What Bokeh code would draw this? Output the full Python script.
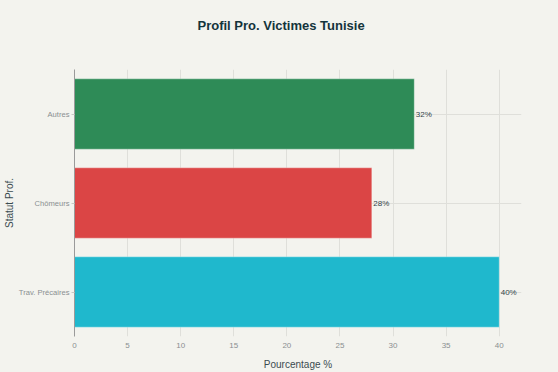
from bokeh.plotting import figure
from bokeh.models import FactorRange, Range1d, LabelSet, ColumnDataSource, SingleIntervalTicker, Title
from bokeh.core.properties import value
from bokeh.embed import file_html
from bokeh.resources import INLINE

categories = ["Trav. Précaires", "Chômeurs", "Autres"]
values = [40, 28, 32]
colors = ["#1FB8CD", "#DB4545", "#2E8B57"]
labels = ["40%", "28%", "32%"]

BG = "#F3F3EE"
FONT = "Liberation Sans"

src = ColumnDataSource(dict(cat=categories, val=values, color=colors, lab=labels))

p = figure(width=558, height=372, output_backend="svg", toolbar_location=None,
           y_range=FactorRange(factors=categories, range_padding=0),
           x_range=Range1d(0, 42.1),
           background_fill_color=BG, border_fill_color=BG,
           min_border_left=0, min_border_right=37, min_border_top=69, min_border_bottom=0)

p.hbar(y="cat", right="val", height=0.79, left=0, source=src,
       fill_color="color", line_color="white", line_alpha=0.5, line_width=0.6)

p.add_layout(LabelSet(x="val", y="cat", text="lab", source=src, x_offset=1.5,
                      text_baseline="middle", text_font_size="8px",
                      text_color="#34454b", text_font=value(FONT)))

# blank spacer panel between the title and the plot frame
p.add_layout(Title(text=" ", text_font_size="10px", standoff=22), "above")

p.title.text = "Profil Pro. Victimes Tunisie"
p.title.align = "left"
p.title.offset = 123
p.title.text_font = FONT
p.title.text_font_size = "13px"
p.title.text_font_style = "bold"
p.title.text_color = "#13343B"
p.title.standoff = 4

p.xaxis.ticker = SingleIntervalTicker(interval=5)
p.xaxis.axis_label = "Pourcentage %"
p.yaxis.axis_label = "Statut Prof."
for ax in (p.xaxis[0], p.yaxis[0]):
    ax.axis_label_text_font = FONT
    ax.axis_label_text_font_size = "10px"
    ax.axis_label_text_font_style = "normal"
    ax.axis_label_text_color = "#3b4b50"
    ax.major_label_text_font = FONT
    ax.major_label_text_font_size = "7.6px"
    ax.major_label_text_color = "#8a8f91"
    ax.minor_tick_line_color = None

p.xaxis.major_label_text_font_size = "8px"
p.xaxis.axis_line_color = None
p.xaxis.major_tick_line_color = None
p.xaxis.major_tick_out = 0
p.xaxis.major_tick_in = 0
p.xaxis.major_label_standoff = 2
p.xaxis.axis_label_standoff = 8

p.yaxis.axis_line_color = "#9a9a9a"
p.yaxis.major_tick_line_color = "#c8c8c4"
p.yaxis.major_tick_out = 3
p.yaxis.major_tick_in = 0
p.yaxis.major_label_standoff = 2
p.yaxis.axis_label_standoff = 1

p.xgrid.grid_line_color = "#dfdfda"
p.ygrid.grid_line_color = "#dfdfda"
p.outline_line_color = None

html = file_html(p, INLINE)
html = html.replace("</head>", "<style>html,body{background:%s}</style></head>" % BG, 1)
open("out.html", "w").write(html)
